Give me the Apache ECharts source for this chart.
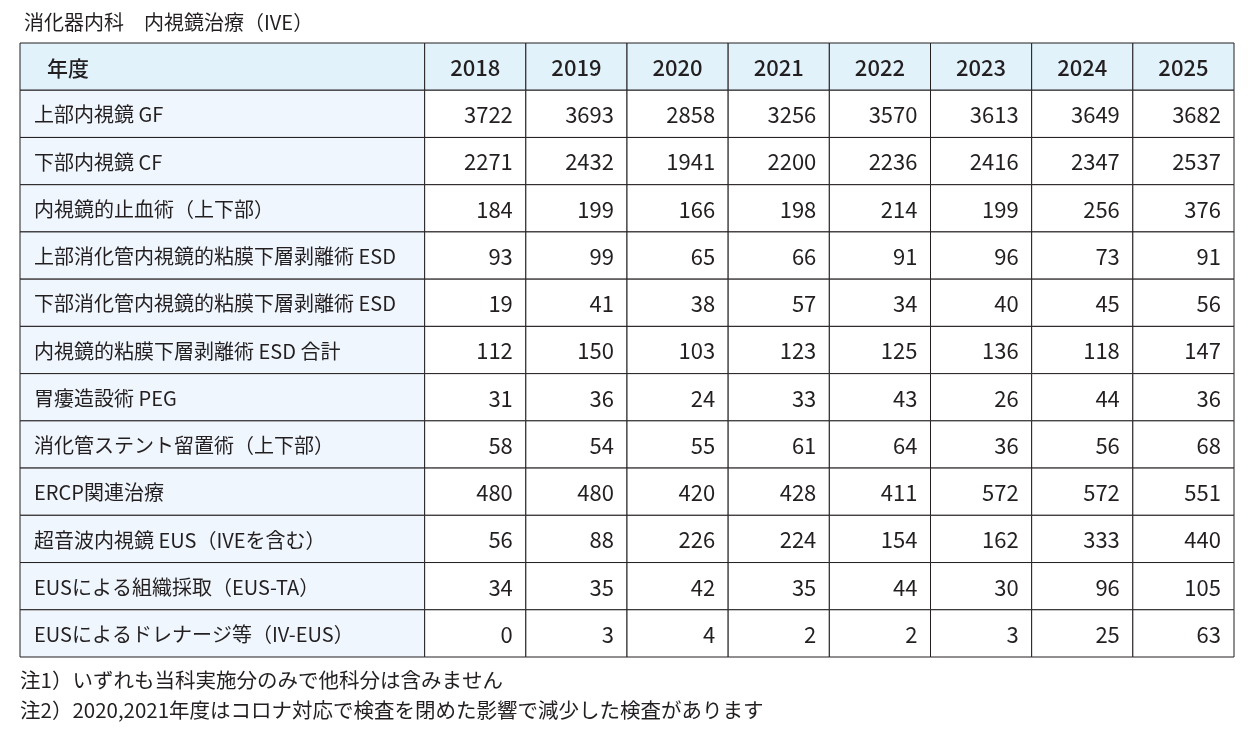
<!DOCTYPE html>
<html>
<head>
<meta charset="utf-8">
<script src="https://cdn.jsdelivr.net/npm/echarts@6/dist/echarts.min.js"></script>
<style>
  html, body { margin: 0; padding: 0; background: #fff; }
  #main { width: 1253px; height: 735px; }
</style>
</head>
<body>
<div id="main"></div>
<script>
// 年度
var years = ['2018', '2019', '2020', '2021', '2022', '2023', '2024', '2025'];
var headLabel = '年度';

// 項目名
var labels = [
    '上部内視鏡 GF',
    '下部内視鏡 CF',
    '内視鏡的止血術（上下部）',
    '上部消化管内視鏡的粘膜下層剥離術 ESD',
    '下部消化管内視鏡的粘膜下層剥離術 ESD',
    '内視鏡的粘膜下層剥離術 ESD 合計',
    '胃瘻造設術 PEG',
    '消化管ステント留置術（上下部）',
    'ERCP関連治療',
    '超音波内視鏡 EUS（IVEを含む）',
    'EUSによる組織採取（EUS-TA）',
    'EUSによるドレナージ等（IV-EUS）'
];

// 件数（2018〜2025）
var gf = [3722, 3693, 2858, 3256, 3570, 3613, 3649, 3682];
var cf = [2271, 2432, 1941, 2200, 2236, 2416, 2347, 2537];
var hemostasis = [184, 199, 166, 198, 214, 199, 256, 376];
var esdUpper = [93, 99, 65, 66, 91, 96, 73, 91];
var esdLower = [19, 41, 38, 57, 34, 40, 45, 56];
var esdTotal = [112, 150, 103, 123, 125, 136, 118, 147];
var peg = [31, 36, 24, 33, 43, 26, 44, 36];
var stent = [58, 54, 55, 61, 64, 36, 56, 68];
var ercp = [480, 480, 420, 428, 411, 572, 572, 551];
var eus = [56, 88, 226, 224, 154, 162, 333, 440];
var eusTa = [34, 35, 42, 35, 44, 30, 96, 105];
var ivEus = [0, 3, 4, 2, 2, 3, 25, 63];

var rows = [gf, cf, hemostasis, esdUpper, esdLower, esdTotal, peg, stent, ercp, eus, eusTa, ivEus];

var titleText = '消化器内科　内視鏡治療（IVE）';
var notes = [
    '注1）いずれも当科実施分のみで他科分は含みません',
    '注2）2020,2021年度はコロナ対応で検査を閉めた影響で減少した検査があります'
];

var FONT = '"Noto Sans CJK JP", "Noto Sans", sans-serif';
var INK = '#231f20';
var LABEL_W = 4; // 項目列の幅（年度列=1）

// セルを作る: [列開始, 列終了, 行, 種別]
var rowNames = [headLabel].concat(labels);
var cells = [];
var cellText = [];
cells.push([0, LABEL_W, 0, 0]); cellText.push(headLabel);
years.forEach(function (y, j) {
    cells.push([LABEL_W + j, LABEL_W + j + 1, 0, 1]); cellText.push(y);
});
labels.forEach(function (lb, i) {
    cells.push([0, LABEL_W, i + 1, 2]); cellText.push(lb);
    rows[i].forEach(function (v, j) {
        cells.push([LABEL_W + j, LABEL_W + j + 1, i + 1, 3]); cellText.push(String(v));
    });
});

var myChart = echarts.init(document.getElementById('main'));

function renderCell(params, api) {
    var kind = api.value(3);
    var row = api.value(2);
    var p0 = api.coord([api.value(0), row]);
    var p1 = api.coord([api.value(1), row]);
    var h = api.size([0, 1])[1];
    var x = p0[0], y = p0[1] - h / 2, w = p1[0] - p0[0];
    var fill = kind === 3 ? '#ffffff' : (kind === 2 ? '#eff6fd' : '#e1f2fb');
    var tx, align, font;
    if (kind === 0) { tx = x + 27; align = 'left'; font = '500 21px ' + FONT; }
    else if (kind === 1) { tx = x + w / 2; align = 'center'; font = '500 22px ' + FONT; }
    else if (kind === 2) { tx = x + 14; align = 'left'; font = '20px ' + FONT; }
    else { tx = x + w - 13; align = 'right'; font = '22px ' + FONT; }
    return {
        type: 'group',
        children: [{
            type: 'rect',
            shape: { x: x, y: y, width: w, height: h },
            style: { fill: fill, stroke: INK, lineWidth: 1 }
        }, {
            type: 'text',
            style: {
                text: cellText[params.dataIndex],
                x: tx,
                y: y + h / 2 + 1,
                align: align,
                verticalAlign: 'middle',
                fill: INK,
                font: font
            }
        }]
    };
}

option = {
    backgroundColor: '#fff',
    animation: false,
    title: {
        text: titleText,
        left: 19,
        top: 7,
        textStyle: { color: INK, fontSize: 20, fontWeight: 'normal', fontFamily: FONT }
    },
    grid: { left: 20, right: 19, top: 43, bottom: 78 },
    xAxis: { type: 'value', min: 0, max: LABEL_W + years.length, show: false },
    yAxis: { type: 'category', data: rowNames, inverse: true, show: false },
    series: [{
        type: 'custom',
        renderItem: renderCell,
        encode: { x: [0, 1], y: 2 },
        data: cells,
        silent: true
    }],
    graphic: notes.map(function (t, i) {
        return {
            type: 'text',
            left: 20,
            top: 670 + i * 30,
            style: { text: t, fill: INK, font: '20.5px ' + FONT }
        };
    })
};

myChart.setOption(option);
</script>
</body>
</html>
